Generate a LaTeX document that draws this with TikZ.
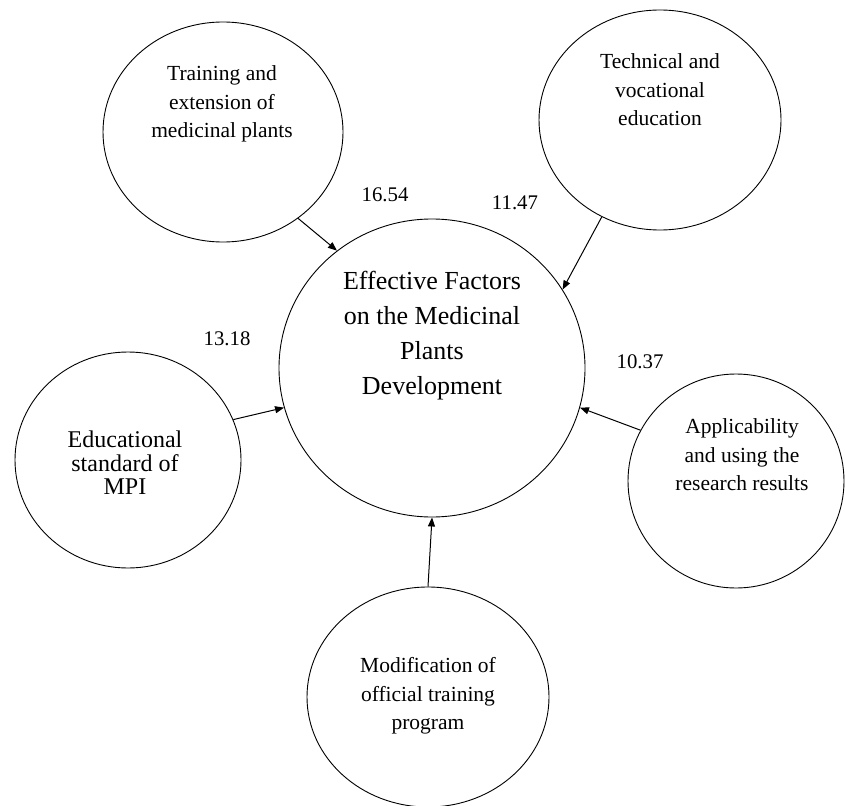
\documentclass[tikz,border=0pt]{standalone}
\usepackage{fontspec}
\setmainfont{Liberation Serif}
\usetikzlibrary{shapes.geometric,arrows.meta}

\begin{document}
\begin{tikzpicture}[x=1pt,y=-1pt,>={Triangle[length=9pt,width=7pt]},
  bubble/.style={ellipse,draw,line width=0.9pt,inner sep=0pt},
  smalltxt/.style={align=center,font=\fontsize{21.5}{28.5}\selectfont},
  value/.style={font=\fontsize{20.8}{24}\selectfont},
  link/.style={->,line width=1pt}]
\useasboundingbox (0,0) rectangle (845,805);
% circles
\node[bubble,minimum width=306pt,minimum height=298pt] (centre) at (432,368) {};
\node[bubble,minimum width=240pt,minimum height=220pt] (training) at (223,132) {};
\node[bubble,minimum width=242pt,minimum height=220pt] (technical) at (660,120) {};
\node[bubble,minimum width=226pt,minimum height=216pt] (standard) at (128,460) {};
\node[bubble,minimum width=216pt,minimum height=214pt] (applic) at (736,481) {};
\node[bubble,minimum width=242pt,minimum height=220pt] (modif) at (428,697) {};
% texts
\node[align=center,font=\fontsize{26}{35}\selectfont] (centretxt) at (432,336)
  {Effective Factors\\on the Medicinal\\Plants\\Development};
\node[smalltxt] (trainingtxt) at (222,104) {Training and\\extension of\\medicinal plants};
\node[smalltxt] (technicaltxt) at (660,90) {Technical and\\vocational\\education};
\node[align=center,font=\fontsize{24}{23.5}\selectfont] (standardtxt) at (125,463)
  {Educational\\standard of\\MPI};
\node[smalltxt] (applictxt) at (742,455) {Applicability\\and using the\\research results};
\node[smalltxt] (modiftxt) at (428,696) {Modification of\\official training\\program};
% values
\node[value] (v1) at (385,195) {16.54};
\node[value] (v2) at (515,203) {11.47};
\node[value] (v3) at (227,339) {13.18};
\node[value] (v4) at (640,362) {10.37};
% arrows
\draw[link] (training.-49) -- (centre.129);
\draw[link] (technical.239) -- (centre.31);
\draw[link] (standard.21) -- (centre.195);
\draw[link] (applic.152) -- (centre.-15);
\draw[link] (modif.north) -- (centre.south);
\end{tikzpicture}
\end{document}
